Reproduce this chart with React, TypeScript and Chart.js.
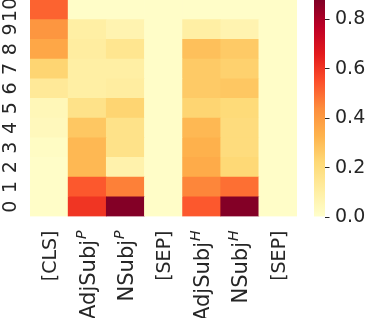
import React, { useEffect, useRef } from "react";
import { Chart, registerables } from "chart.js";

Chart.register(...registerables);

const columns = ["[CLS]", "AdjSubj", "NSubj", "[SEP]", "AdjSubj", "NSubj", "[SEP]"];
const columnSup = ["", "P", "P", "", "H", "H", ""];
const rowLabels = ["0", "1", "2", "3", "4", "5", "6", "7", "8", "9", "10"];

// values per row (row 0 at bottom), columns as above
const row0 = [0.01, 0.6, 0.87, 0.01, 0.53, 0.87, 0.01];
const row1 = [0.01, 0.53, 0.46, 0.01, 0.45, 0.49, 0.01];
const row2 = [0.01, 0.31, 0.08, 0.01, 0.35, 0.22, 0.01];
const row3 = [0.02, 0.31, 0.17, 0.01, 0.33, 0.2, 0.01];
const row4 = [0.04, 0.27, 0.17, 0.01, 0.31, 0.2, 0.01];
const row5 = [0.05, 0.17, 0.23, 0.01, 0.23, 0.21, 0.01];
const row6 = [0.13, 0.1, 0.11, 0.01, 0.26, 0.27, 0.01];
const row7 = [0.23, 0.1, 0.1, 0.01, 0.26, 0.24, 0.01];
const row8 = [0.36, 0.11, 0.15, 0.01, 0.29, 0.26, 0.01];
const row9 = [0.41, 0.1, 0.07, 0.01, 0.1, 0.07, 0.01];
const row10 = [0.51, 0.01, 0.01, 0.01, 0.01, 0.01, 0.01];
const rows = [row0, row1, row2, row3, row4, row5, row6, row7, row8, row9, row10];

const vmin = 0;
const vmax = 0.875;
const colorbarTicks = [0, 0.2, 0.4, 0.6, 0.8];

const YLORRD = [
  [255, 255, 204],
  [255, 237, 160],
  [254, 217, 118],
  [254, 178, 76],
  [253, 141, 60],
  [252, 78, 42],
  [227, 26, 28],
  [189, 0, 38],
  [128, 0, 38],
];

function cmap(v: number): string {
  let t = (v - vmin) / (vmax - vmin);
  t = Math.max(0, Math.min(1, t));
  const p = t * (YLORRD.length - 1);
  const i = Math.min(YLORRD.length - 2, Math.floor(p));
  const f = p - i;
  const a = YLORRD[i];
  const b = YLORRD[i + 1];
  const c = a.map((x, k) => Math.round(x + (b[k] - x) * f));
  return `rgb(${c[0]},${c[1]},${c[2]})`;
}

const FONT = '"DejaVu Sans", sans-serif';
const TEXT = "#262626";
const FS = 19;
const FS_MATH = 21;
const FS_SUP = 14;

const decorPlugin = {
  id: "decor",
  afterDraw(chart: any) {
    const ctx = chart.ctx;
    const area = chart.chartArea;
    const xs = chart.scales.x;
    const ys = chart.scales.y;
    ctx.save();
    ctx.fillStyle = TEXT;
    // y labels (rotated)
    ctx.font = `${FS}px ${FONT}`;
    rowLabels.forEach((lab, i) => {
      const y = ys.getPixelForValue(i + 0.5);
      ctx.save();
      ctx.translate(15.5, y);
      ctx.rotate(-Math.PI / 2);
      ctx.textAlign = "center";
      ctx.textBaseline = "alphabetic";
      ctx.fillText(lab, 0, 0);
      ctx.restore();
    });
    // x labels (rotated, with superscript)
    columns.forEach((lab, i) => {
      const x = xs.getPixelForValue(i);
      const sup = columnSup[i];
      const mainFont = `${sup ? FS_MATH : FS}px ${FONT}`;
      const supFont = `italic ${FS_SUP}px ${FONT}`;
      ctx.save();
      ctx.translate(x, area.bottom + 14);
      ctx.rotate(-Math.PI / 2);
      ctx.textBaseline = "middle";
      ctx.textAlign = "left";
      ctx.font = mainFont;
      const w1 = ctx.measureText(lab).width;
      let w2 = 0;
      if (sup) {
        ctx.font = supFont;
        w2 = ctx.measureText(sup).width + 1;
      }
      const total = w1 + w2;
      ctx.font = mainFont;
      ctx.fillText(lab, -total, 2);
      if (sup) {
        ctx.font = supFont;
        ctx.fillText(sup, -total + w1 + 1, -5);
      }
      ctx.restore();
    });
    // colorbar
    const cbL = 314;
    const cbR = 325;
    const cbT = area.top;
    const cbB = area.bottom;
    const grad = ctx.createLinearGradient(0, cbB, 0, cbT);
    for (let k = 0; k <= 40; k++) {
      grad.addColorStop(k / 40, cmap(vmin + ((vmax - vmin) * k) / 40));
    }
    ctx.fillStyle = grad;
    ctx.fillRect(cbL, cbT, cbR - cbL, cbB - cbT);
    ctx.strokeStyle = TEXT;
    ctx.lineWidth = 1;
    ctx.fillStyle = TEXT;
    ctx.font = `${FS}px ${FONT}`;
    ctx.textAlign = "left";
    ctx.textBaseline = "middle";
    colorbarTicks.forEach((t) => {
      const y = cbB - ((t - vmin) / (vmax - vmin)) * (cbB - cbT);
      ctx.beginPath();
      ctx.moveTo(cbR, Math.round(y) + 0.5);
      ctx.lineTo(cbR + 4.5, Math.round(y) + 0.5);
      ctx.stroke();
      ctx.fillText(t.toFixed(1), cbR + 10, y + 1);
    });
    ctx.restore();
  },
};

export default function App() {
  const ref = useRef<HTMLCanvasElement | null>(null);
  useEffect(() => {
    document.body.style.margin = "0";
    const canvas = ref.current!;
    const datasets = rows.map((r, i) => ({
      label: rowLabels[i],
      data: r.map(() => 1),
      backgroundColor: r.map((v) => cmap(v)),
      borderWidth: 0,
      barPercentage: 1,
      categoryPercentage: 1,
    }));
    const chart = new Chart(canvas, {
      type: "bar",
      data: { labels: columns, datasets },
      options: {
        animation: false,
        responsive: false,
        maintainAspectRatio: false,
        layout: { padding: { left: 30, right: 70, top: 0, bottom: 101.5 } },
        plugins: { legend: { display: false }, tooltip: { enabled: false } },
        scales: {
          x: { type: "category", stacked: true, display: false },
          y: { type: "linear", stacked: true, min: 0, max: rows.length, display: false },
        },
      },
      plugins: [decorPlugin],
    });
    return () => chart.destroy();
  }, []);
  return (
    <div style={{ position: "absolute", left: 0, top: 0, width: 367, height: 318, background: "#fff" }}>
      <canvas ref={ref} width={367} height={318} style={{ width: 367, height: 318 }} />
    </div>
  );
}
